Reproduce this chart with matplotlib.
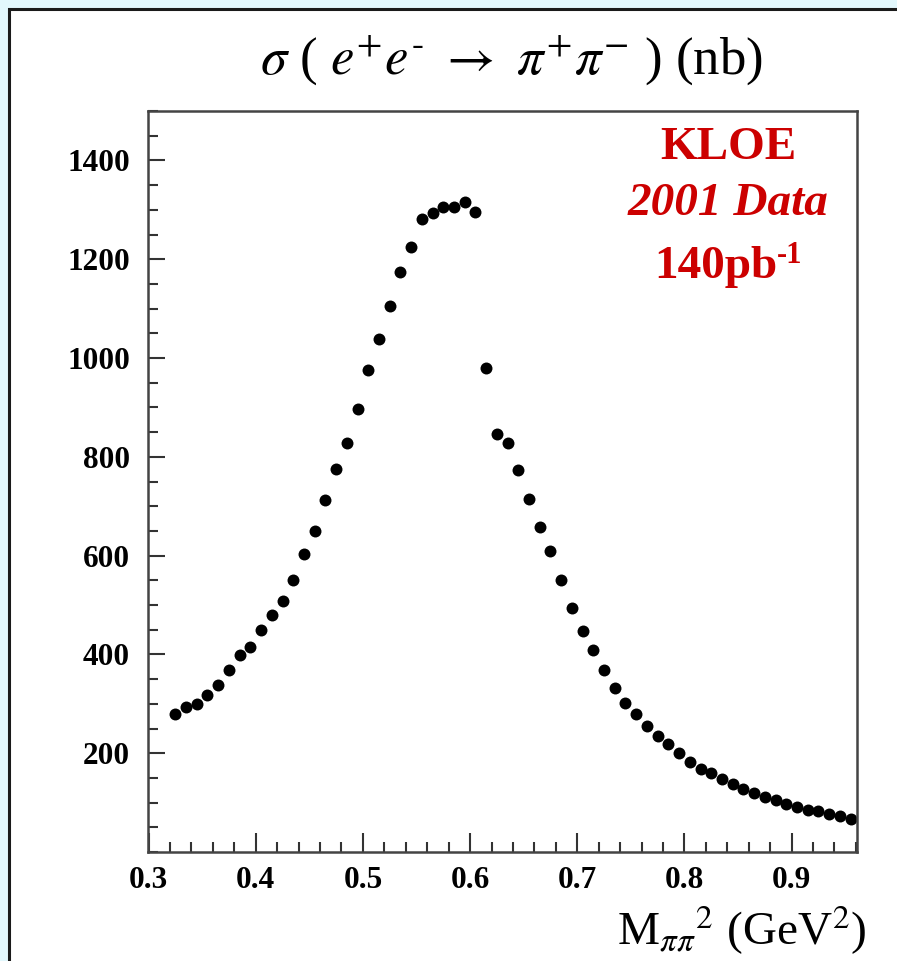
import matplotlib
matplotlib.use("Agg")
import matplotlib.pyplot as plt
from matplotlib.patches import Rectangle
from matplotlib.ticker import MultipleLocator, FixedLocator

plt.rcParams['font.family'] = ['Liberation Serif', 'DejaVu Serif']
plt.rcParams['mathtext.fontset'] = 'stix'

# s = M_pipi^2 (GeV^2)
s_values = [0.325, 0.335, 0.345, 0.355, 0.365, 0.375, 0.385, 0.395, 0.405, 0.415,
            0.425, 0.435, 0.445, 0.455, 0.465, 0.475, 0.485, 0.495, 0.505, 0.515,
            0.525, 0.535, 0.545, 0.555, 0.565, 0.575, 0.585, 0.595, 0.605, 0.615,
            0.625, 0.635, 0.645, 0.655, 0.665, 0.675, 0.685, 0.695, 0.705, 0.715,
            0.725, 0.735, 0.745, 0.755, 0.765, 0.775, 0.785, 0.795, 0.805, 0.815,
            0.825, 0.835, 0.845, 0.855, 0.865, 0.875, 0.885, 0.895, 0.905, 0.915,
            0.925, 0.935, 0.945, 0.955]
# sigma(e+e- -> pi+pi-) in nb
sigma_nb = [280, 294, 300, 317, 339, 368, 399, 415, 449, 480,
            509, 550, 604, 649, 712, 776, 828, 896, 975, 1039,
            1105, 1175, 1224, 1282, 1293, 1306, 1305, 1316, 1295, 979,
            847, 827, 773, 715, 658, 609, 551, 494, 447, 408,
            368, 332, 301, 280, 256, 234, 218, 200, 182, 168,
            160, 148, 138, 128, 119, 111, 106, 98, 92, 86,
            83, 77, 72, 67]

y_ticks = [200, 400, 600, 800, 1000, 1200, 1400]
x_ticks = [0.3, 0.4, 0.5, 0.6, 0.7, 0.8, 0.9]

W, H = 897, 961
fig = plt.figure(figsize=(W / 100, H / 100), dpi=100)
fig.patch.set_facecolor('#e2f7fc')

panel = Rectangle((9 / W, -0.05), 1.2, (H - 9) / H + 0.05, transform=fig.transFigure,
                  facecolor='white', edgecolor='#1a1a1a', linewidth=2.2, zorder=-10)
fig.patches.append(panel)

ax = fig.add_axes([148 / W, (H - 852) / H, (857 - 148) / W, (852 - 111) / H])
ax.set_zorder(5)
ax.plot(s_values, sigma_nb, linestyle='none', marker='o', markersize=8.6,
        color='black', markeredgewidth=0)

ax.set_xlim(0.2995, 0.961)
ax.set_ylim(0, 1500)

ax.xaxis.set_major_locator(FixedLocator(x_ticks))
ax.xaxis.set_minor_locator(MultipleLocator(0.02))
ax.yaxis.set_major_locator(FixedLocator(y_ticks))
ax.yaxis.set_minor_locator(MultipleLocator(50))

ax.tick_params(axis='both', which='both', direction='in', top=False, right=False,
               color='#333333', width=1.5)
ax.tick_params(axis='x', which='major', length=14, pad=10)
ax.tick_params(axis='x', which='minor', length=7)
ax.tick_params(axis='y', which='major', length=12, pad=13)
ax.tick_params(axis='y', which='minor', length=7)

ax.set_xticklabels([f"{v:.1f}" for v in x_ticks])
ax.set_yticklabels([str(v) for v in y_ticks])
for lab in ax.get_xticklabels() + ax.get_yticklabels():
    lab.set_fontweight('bold')
    lab.set_fontsize(22.5)

for sp in ax.spines.values():
    sp.set_color('#444444')
    sp.set_linewidth(1.8)

fig.text(511 / W, 1 - 60 / H,
         r"$\sigma$ ( $e^{+}e^{\text{-}}$ $\rightarrow$ $\pi^{+}\pi^{-}$ ) (nb)",
         ha='center', va='center', fontsize=38, color='black')

fig.text(866 / W, 1 - 945 / H, r"M$_{\pi\pi}$$^{2}$ (GeV$^{2}$)",
         ha='right', va='baseline', fontsize=34, color='black')

red = '#cc0000'
fig.text(728 / W, 1 - 148 / H, "KLOE", ha='center', va='center',
         fontsize=34, fontweight='bold', color=red, zorder=10)
fig.text(728 / W, 1 - 204 / H, "2001 Data", ha='center', va='center',
         fontsize=34, fontweight='bold', fontstyle='italic', color=red, zorder=10)
fig.text(777 / W, 1 - 278 / H, "140pb", ha='right', va='baseline',
         fontsize=34, fontweight='bold', color=red, zorder=10)
fig.text(777 / W, 1 - 263 / H, "-1", ha='left', va='baseline',
         fontsize=22, fontweight='bold', color=red, zorder=10)

fig.savefig("out.png", dpi=100)
